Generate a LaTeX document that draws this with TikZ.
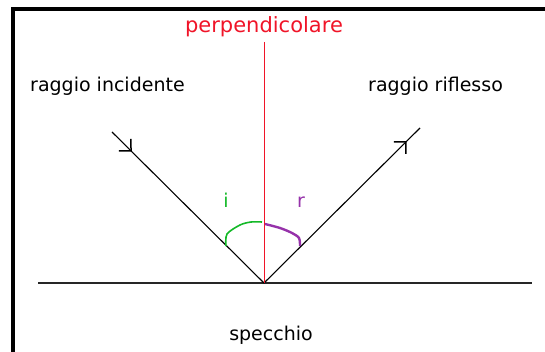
\documentclass[tikz,border=0pt]{standalone}
\usepackage{fontspec}
\setmainfont{DejaVu Sans}
\usetikzlibrary{arrows.meta,decorations.markings}
\definecolor{perpred}{RGB}{240,20,40}
\definecolor{arcgreen}{RGB}{20,185,40}
\definecolor{arcpurple}{RGB}{150,50,170}

\begin{document}
\begin{tikzpicture}[
  x=1pt, y=-1pt,
  every node/.style={font=\fontsize{19}{22}\selectfont, inner sep=0pt},
  ray/.style={line width=1.1pt, black},
  barb/.style={postaction={decorate}, decoration={markings,
    mark=at position #1 with {\arrow{Straight Barb[length=8.5pt,width=17pt,line width=1.5pt]}}}},
  anglearc/.style={line width=1.6pt}
]
\useasboundingbox (0,0) rectangle (545,352);
% Frame, open to the right and bottom.
\draw[line width=3.6pt] (12.8,356) -- (12.8,9.3) -- (549,9.3);

% Mirror, normal and the two rays.
\coordinate (O) at (264,283);
\coordinate (P) at (264,42);
\coordinate (A) at (112,132);
\coordinate (B) at (420,128);
\coordinate (ML) at (38,283);
\coordinate (MR) at (532,283);
\draw[line width=1.6pt, black!85] (ML) -- (MR);
\draw[ray, barb=0.13] (A) -- (O);
\draw[ray, barb=0.915] (O) -- (B);
\draw[perpred, line width=1pt] (P) -- (O);

% Angles of incidence and reflection.
\draw[anglearc, arcgreen] plot[smooth] coordinates {(226,246) (227,234)
  (240,225) (251,222) (262,222)};
\draw[anglearc, arcpurple, line width=2.4pt] plot[smooth] coordinates
  {(265,224) (280,228) (292,233) (299,238) (300,246)};
\node[anchor=base, text=arcgreen] (ilab) at (226,208) {i};
\node[anchor=base, text=arcpurple] (rlab) at (301,208) {r};

% Labels.
\node[anchor=base, text=perpred, font=\fontsize{21}{24}\selectfont] (perp)
  at (264,33) {perpendicolare};
\node[anchor=base west] (inc) at (30,92) {raggio incidente};
\node[anchor=base west] (rifl) at (368,92) {raggio riflesso};
\node[anchor=base] (spec) at (271,340) {specchio};
\end{tikzpicture}
\end{document}
